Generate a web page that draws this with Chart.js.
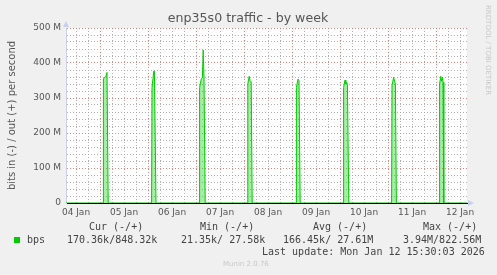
<!DOCTYPE html>
<html>
<head>
<meta charset="utf-8">
<script src="https://cdn.jsdelivr.net/npm/chart.js@4/dist/chart.umd.min.js"></script>
<style>
  body { margin: 0; background: #f0f0f0; }
  #wrap { width: 497px; height: 275px; position: relative; }
</style>
</head>
<body>
<div id="wrap"><canvas id="grafico" width="497" height="275"></canvas></div>
<script>
// --- dados (horas desde 04 Jan 00:00, valores em M bits/s) ---
const horas = [
    7,
    25.5, 25.7, 27.0, 27.5, 28.1,
    49.8, 50.0, 50.9, 51.2, 52.0,
    73.6, 73.8, 74.7, 75.2, 75.6, 76.0, 76.6,
    97.7, 97.9, 98.6, 99.0, 99.6, 100.1,
    122.0, 122.2, 123.0, 123.5, 124.1,
    145.6, 145.8, 146.5, 146.9, 147.3, 147.7, 148.4,
    169.8, 170.0, 170.8, 171.4, 171.7, 172.2,
    193.6, 193.8, 194.4, 194.8, 195.3, 195.5, 195.9,
    207.5
];
const saidaM = [
    0,
    0, 355, 362, 373, 0,
    0, 330, 377, 377, 0,
    0, 330, 356, 358, 437, 360, 0,
    0, 340, 362, 350, 346, 0,
    0, 330, 354, 350, 0,
    0, 330, 351, 340, 345, 338, 0,
    0, 335, 359, 346, 340, 0,
    0, 340, 362, 348, 360, 345, 0,
    0
];
const rotulosDias = ['04 Jan', '05 Jan', '06 Jan', '07 Jan', '08 Jan', '09 Jan', '10 Jan', '11 Jan', '12 Jan'];
const ticksY = [0, 100, 200, 300, 400, 500];

const legendaCabecalho = ['Cur (-/+)', 'Min (-/+)', 'Avg (-/+)', 'Max (-/+)'];
const legendaValores = ['170.36k/848.32k', '21.35k/ 27.58k', '166.45k/ 27.61M', '3.94M/822.56M'];

const cores = {
    linha: '#00cc00',
    preenchimento: 'rgba(0,204,0,0.35)',
    gradeMaior: 'rgba(220,110,110,0.85)',
    gradeMenor: 'rgba(165,165,165,0.85)',
    eixo: '#c8cff0',
    texto: '#555'
};

// fundo branco só na área de plotagem
const fundoBranco = {
    id: 'fundoBranco',
    beforeDraw(chart) {
        const a = chart.chartArea;
        chart.ctx.save();
        chart.ctx.fillStyle = '#fff';
        chart.ctx.fillRect(a.left, a.top, a.right - a.left, a.bottom - a.top);
        chart.ctx.restore();
    }
};

// --- textos, setas e legenda desenhados em volta da área do gráfico ---
const textosMunin = {
    id: 'textosMunin',
    afterDraw(chart) {
        const ctx = chart.ctx;
        const sx = chart.scales.x, sy = chart.scales.y;
        const area = chart.chartArea;
        ctx.save();

        // título
        ctx.fillStyle = cores.texto;
        ctx.font = '12.6px "DejaVu Sans"';
        ctx.textAlign = 'center';
        ctx.textBaseline = 'middle';
        ctx.fillText('enp35s0 traffic - by week', 248, 19);

        // rótulos do eixo Y
        ctx.font = '9px "DejaVu Sans"';
        ctx.textAlign = 'right';
        ticksY.forEach(v => {
            ctx.fillText(v === 0 ? '0' : v + ' M', 61, sy.getPixelForValue(v));
        });

        // rótulos do eixo X (meio-dia de cada dia)
        ctx.textAlign = 'center';
        rotulosDias.forEach((txt, i) => {
            ctx.fillText(txt, sx.getPixelForValue(12 + 24 * i), 213);
        });

        // título do eixo Y
        ctx.save();
        ctx.translate(12, (area.top + area.bottom) / 2);
        ctx.rotate(-Math.PI / 2);
        ctx.font = '10px "DejaVu Sans"';
        ctx.fillText('bits in (-) / out (+) per second', 0, 0);
        ctx.restore();

        // marca d'água rrdtool
        ctx.save();
        ctx.translate(488, 5);
        ctx.rotate(Math.PI / 2);
        ctx.fillStyle = '#c8c8c8';
        ctx.font = '7px "DejaVu Sans"';
        ctx.textAlign = 'left';
        ctx.fillText('RRDTOOL / TOBI OETIKER', 0, 0);
        ctx.restore();

        // setas dos eixos
        ctx.fillStyle = cores.eixo;
        ctx.beginPath();
        ctx.moveTo(area.left - 3, area.top - 1);
        ctx.lineTo(area.left + 3, area.top - 1);
        ctx.lineTo(area.left, area.top - 7);
        ctx.closePath();
        ctx.fill();
        ctx.beginPath();
        ctx.moveTo(area.right + 1, area.bottom - 3);
        ctx.lineTo(area.right + 1, area.bottom + 3);
        ctx.lineTo(area.right + 7, area.bottom);
        ctx.closePath();
        ctx.fill();

        // legenda
        ctx.fillStyle = '#444';
        ctx.font = '10px "DejaVu Sans Mono"';
        ctx.textAlign = 'left';
        const colunas = [89, 200, 313, 423];
        legendaCabecalho.forEach((t, i) => ctx.fillText(t, colunas[i], 227));
        const colValores = [67, 181, 283, 403];
        legendaValores.forEach((t, i) => ctx.fillText(t, colValores[i], 240));
        ctx.fillText('bps', 27, 240);
        ctx.fillText('Last update: Mon Jan 12 15:30:03 2026', 262, 252);
        ctx.fillStyle = cores.linha;
        ctx.fillRect(14, 237, 6, 6);

        ctx.fillStyle = '#c8c8c8';
        ctx.font = '7px "DejaVu Sans"';
        ctx.fillText('Munin 2.0.76', 223, 264);

        ctx.restore();
    }
};

new Chart(document.getElementById('grafico'), {
    type: 'line',
    data: {
        datasets: [{
            label: 'bps',
            data: horas.map((h, i) => ({ x: h, y: saidaM[i] })),
            borderColor: cores.linha,
            backgroundColor: cores.preenchimento,
            borderWidth: 1,
            pointRadius: 0,
            tension: 0,
            fill: 'origin'
        }]
    },
    options: {
        responsive: false,
        animation: false,
        devicePixelRatio: 1,
        layout: { padding: { left: 66, top: 28, right: 30, bottom: 72 }, autoPadding: false },
        plugins: { legend: { display: false }, tooltip: { enabled: false } },
        scales: {
            x: {
                type: 'linear',
                min: 7,
                max: 207.5,
                afterBuildTicks: (eixo) => {
                    const t = [];
                    for (let h = 12; h <= 204; h += 6) t.push({ value: h });
                    eixo.ticks = t;
                },
                afterFit: (eixo) => { eixo.height = 0; },
                ticks: { display: false },
                grid: {
                    drawTicks: false,
                    lineWidth: 1,
                    color: (c) => (c.tick && c.tick.value % 24 === 0) ? cores.gradeMaior : cores.gradeMenor
                },
                border: { display: true, color: '#000', width: 1, dash: [1, 2] }
            },
            y: {
                min: 0,
                max: 500,
                afterBuildTicks: (eixo) => {
                    const t = [];
                    for (let v = 0; v <= 500; v += 20) t.push({ value: v });
                    eixo.ticks = t;
                },
                afterFit: (eixo) => { eixo.width = 0; },
                ticks: { display: false },
                grid: {
                    drawTicks: false,
                    lineWidth: 1,
                    color: (c) => (c.tick && c.tick.value % 100 === 0) ? cores.gradeMaior : cores.gradeMenor
                },
                border: { display: true, color: cores.eixo, width: 1, dash: [1, 2] }
            }
        }
    },
    plugins: [fundoBranco, textosMunin]
});
</script>
</body>
</html>
